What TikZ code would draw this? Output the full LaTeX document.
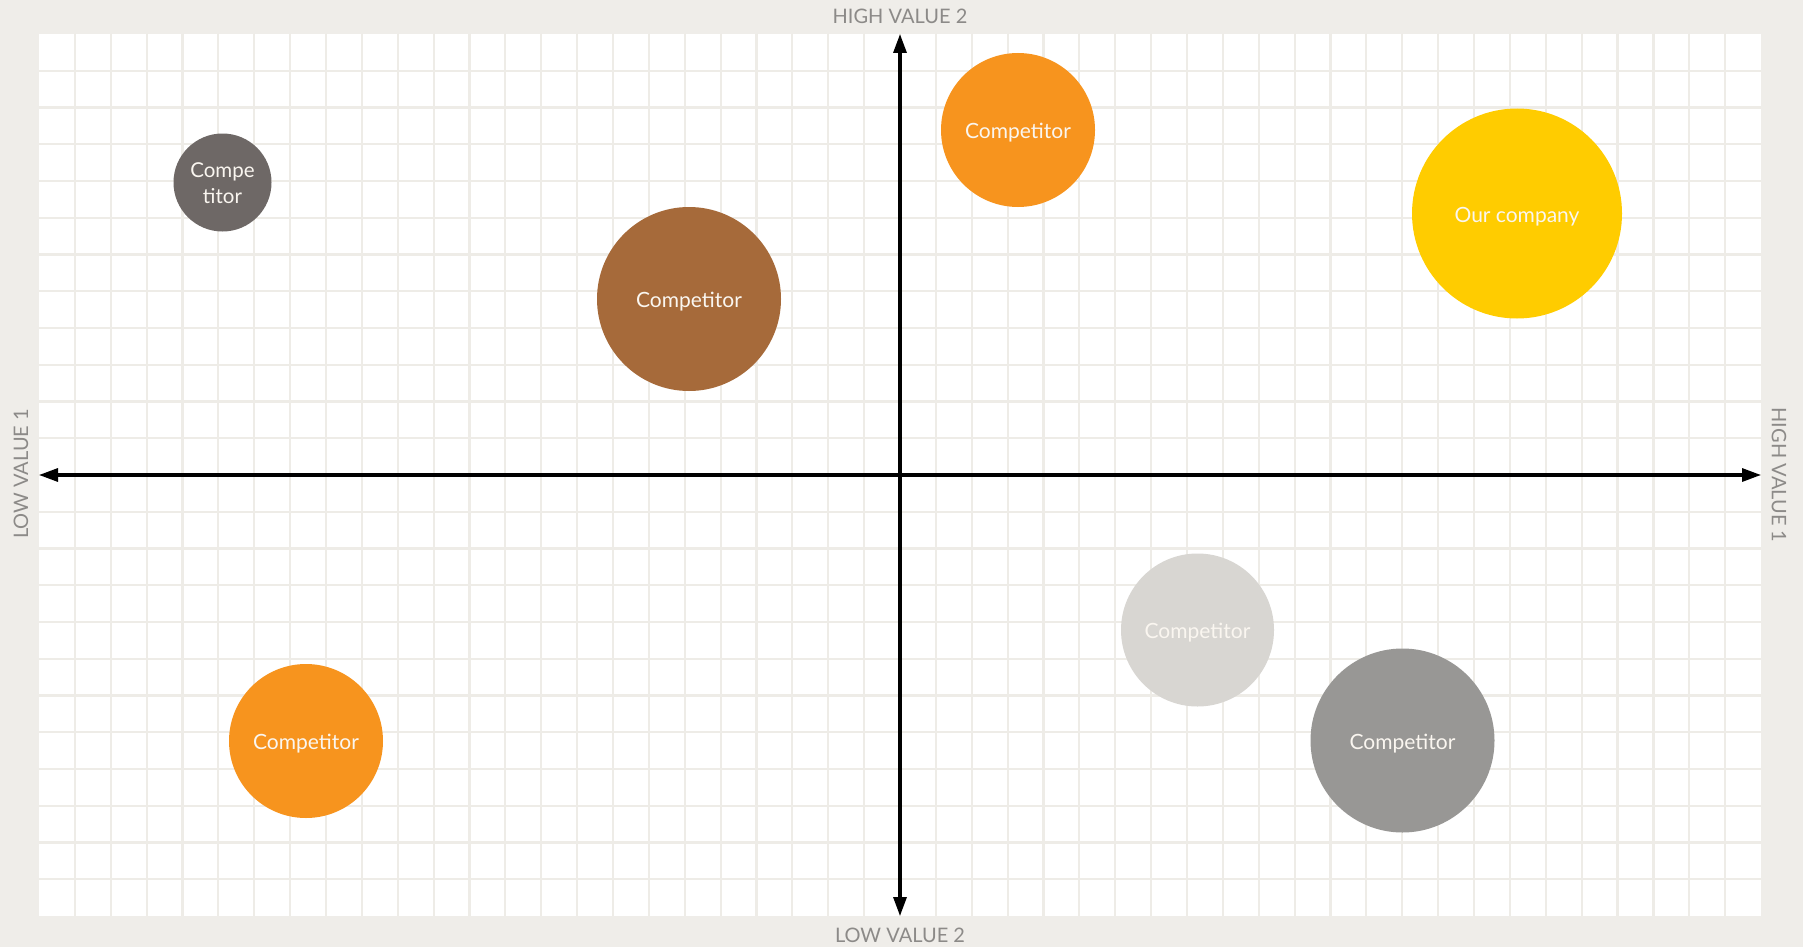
\documentclass[tikz,border=0pt]{standalone}
\usepackage{fontspec}
\setmainfont{Lato}
\usetikzlibrary{arrows.meta}
\definecolor{bgc}{HTML}{EFEDE9}
\definecolor{gridc}{HTML}{EEECE7}
\definecolor{labc}{HTML}{8C8A88}
\definecolor{txtc}{HTML}{FAF6F0}
\definecolor{cdark}{HTML}{6E6866}
\definecolor{cbrown}{HTML}{A66A3A}
\definecolor{corange}{HTML}{F7941E}
\definecolor{cyellow}{HTML}{FFCC00}
\definecolor{clight}{HTML}{D8D6D2}
\definecolor{cgray}{HTML}{989795}
\tikzset{
  bubble/.style={circle, inner sep=0pt, text=txtc, align=center,
    text height=17pt, text depth=0pt,
    font=\fontsize{21}{25}\selectfont},
  bubtext/.style={text=txtc, align=center, inner sep=0pt,
    font=\fontsize{20.5}{26.5}\selectfont},
  axislabel/.style={text=labc, font=\fontsize{20}{24}\selectfont, inner sep=0pt},
  axisline/.style={line width=3.2pt, {Triangle[length=19pt,width=13pt]}-{Triangle[length=19pt,width=13pt]}},
}
\begin{document}
\begin{tikzpicture}[x=1pt,y=-1pt]
\fill[bgc] (0,0) rectangle (1803,947);
\useasboundingbox (0,0) rectangle (1803,947);
\fill[white] (39,34) rectangle (1761,916);
\foreach \k in {1,...,47} {
  \draw[gridc, line width=2.2pt] ({39+35.875*\k},34) -- ({39+35.875*\k},916);
}
\foreach \k in {1,...,23} {
  \draw[gridc, line width=2.2pt] (39,{34+36.75*\k}) -- (1761,{34+36.75*\k});
}
% axes
\coordinate (L) at (39,475);
\coordinate (R) at (1761,475);
\coordinate (T) at (900,34);
\coordinate (B) at (900,916);
\draw[axisline] (L) -- (R);
\draw[axisline] (B) -- (T);
% axis labels
\node[axislabel] (hv2) at (900,16) {HIGH VALUE 2};
\node[axislabel] (lv2) at (900,935) {LOW VALUE 2};
\node[axislabel, rotate=90] (lv1) at (21,474) {LOW VALUE 1};
\node[axislabel, rotate=-90] (hv1) at (1779,475) {HIGH VALUE 1};
% bubbles
\node[bubble, fill=cdark, minimum size=98pt] (c1) at (222.5,182.5) {};
\node[bubtext] (c1t) at ([yshift=-0.5pt]c1.center) {Compe\\titor};
\node[bubble, fill=cbrown, minimum size=184pt] (c2) at (689,299) {Competitor};
\node[bubble, fill=corange, minimum size=154pt] (c3) at (1018,130) {Competitor};
\node[bubble, fill=cyellow, minimum size=210pt] (c4) at (1517,213.5) {Our company};
\node[bubble, fill=clight, minimum size=153pt] (c5) at (1197.5,630) {Competitor};
\node[bubble, fill=cgray, minimum size=184pt] (c6) at (1402.5,740.5) {Competitor};
\node[bubble, fill=corange, minimum size=154pt] (c7) at (306,741) {Competitor};
\end{tikzpicture}
\end{document}
